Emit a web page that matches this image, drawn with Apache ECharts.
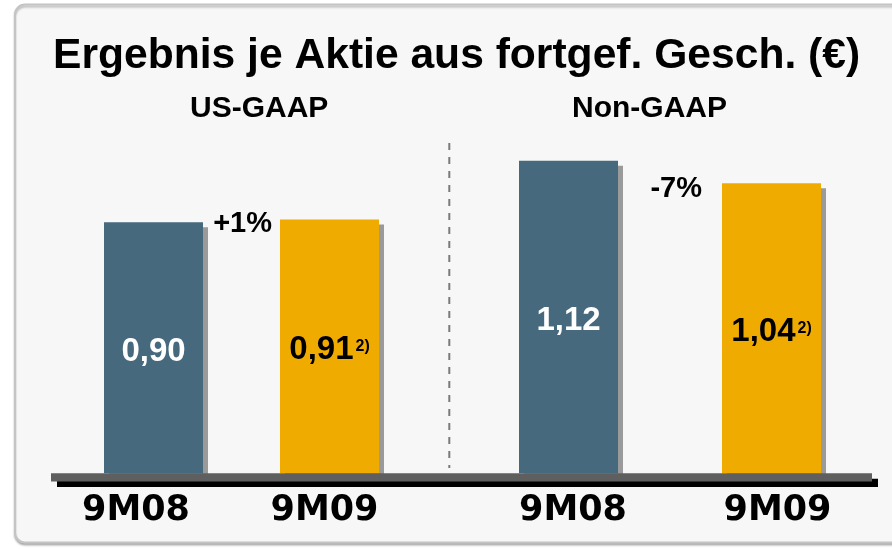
<!DOCTYPE html>
<html>
<head>
<meta charset="utf-8">
<script src="https://cdn.jsdelivr.net/npm/echarts@6/dist/echarts.min.js"></script>
<style>
html,body{margin:0;padding:0;background:#fff;}
#main{width:892px;height:549px;}
</style>
</head>
<body>
<div id="main"></div>
<script>
var title = 'Ergebnis je Aktie aus fortgef. Gesch. (€)';
var groups = ['US-GAAP', 'Non-GAAP'];
var periods = ['9M08', '9M09'];
var usGaap = [0.90, 0.91];
var nonGaap = [1.12, 1.04];
var changes = ['+1%', '-7%'];
var footnote = '2)';

var blue = '#46697d';
var orange = '#f0ab00';
var arial = '"Liberation Sans", Arial, sans-serif';
var heavy = '"DejaVu Sans", sans-serif';

var chart = echarts.init(document.getElementById('main'));

function comma(v){
  return v.toFixed(2).replace('.', ',');
}

function barSeries(idx, values){
  return {
    type: 'bar',
    xAxisIndex: idx,
    yAxisIndex: idx,
    barWidth: 99,
    silent: true,
    data: values.map(function(v, i){
      return {value: v, itemStyle: {color: i == 0 ? blue : orange}};
    }),
    itemStyle: {
      shadowColor: '#9a9a9a',
      shadowOffsetX: 5,
      shadowOffsetY: 5,
      shadowBlur: 0
    },
    label: {
      show: true,
      position: 'inside',
      offset: [0, 4],
      formatter: function(p){
        if (p.dataIndex == 1) return '{dark|' + comma(p.value) + '}{sup|' + footnote + '}';
        return '{light|' + comma(p.value) + '}';
      },
      rich: {
        light: {color: '#fff', fontSize: 33, fontWeight: 'bold', fontFamily: arial},
        dark: {color: '#000', fontSize: 33, fontWeight: 'bold', fontFamily: arial},
        sup: {color: '#000', fontSize: 16, fontWeight: 'bold', fontFamily: arial, verticalAlign: 'top', padding: [5, 0, 0, 2]}
      }
    }
  };
}

function changeSeries(idx, values, dist, dy){
  return {
    type: 'scatter',
    xAxisIndex: idx,
    yAxisIndex: idx,
    symbolSize: 0,
    silent: true,
    itemStyle: {opacity: 1},
    data: [[periods[1], values[1]]],
    label: {
      show: true,
      position: 'left',
      distance: dist,
      offset: [0, dy],
      formatter: changes[idx],
      color: '#000',
      opacity: 1,
      fontSize: 29,
      fontWeight: 'bold',
      fontFamily: arial
    }
  };
}

function xAx(idx, nudge){
  return {
    type: 'category',
    gridIndex: idx,
    data: periods.map(function(p, i){
      return {value: p, textStyle: {padding: nudge[i]}};
    }),
    axisLine: {show: false},
    axisTick: {show: false},
    axisLabel: {
      margin: 20,
      color: '#000',
      fontSize: 35,
      fontWeight: 'bold',
      fontFamily: heavy
    }
  };
}

function yAx(idx){
  return {type: 'value', gridIndex: idx, min: 0, max: 1.2, show: false};
}

chart.setOption({
  animation: false,
  backgroundColor: '#fff',
  title: [
    {text: title, left: 53, top: 35, padding: 0,
     textStyle: {fontSize: 42.6, fontWeight: 'bold', color: '#000', fontFamily: arial}},
    {text: groups[0], left: 190, top: 94, padding: 0,
     textStyle: {fontSize: 30, fontWeight: 'bold', color: '#000', fontFamily: arial}},
    {text: groups[1], left: 572, top: 94, padding: 0,
     textStyle: {fontSize: 30, fontWeight: 'bold', color: '#000', fontFamily: arial}}
  ],
  grid: [
    {left: 65.5, width: 352, top: 138.5, height: 334.8},
    {left: 467, width: 406, top: 138.5, height: 334.8}
  ],
  xAxis: [xAx(0, [[0, 35, 0, 0], [0, 10, 0, 0]]), xAx(1, [[0, 0, 0, 9], [0, 0, 0, 12]])],
  yAxis: [yAx(0), yAx(1)],
  graphic: [
    {id: 'panel', type: 'rect', z: -10,
     shape: {x: 15, y: 4.5, width: 900, height: 538, r: 10},
     style: {fill: '#f7f7f7', stroke: '#c4c4c4', lineWidth: 2,
             shadowColor: 'rgba(0,0,0,0.25)', shadowOffsetY: 2, shadowBlur: 2}},
    {id: 'divider', type: 'line', z: 0,
     shape: {x1: 449.3, y1: 143, x2: 449.3, y2: 468},
     style: {stroke: '#7a7a7a', lineWidth: 2, lineDash: [7, 7]}}
  ],
  series: [
    barSeries(0, usGaap),
    barSeries(1, nonGaap),
    changeSeries(0, usGaap, 57.5, 4.5),
    changeSeries(1, nonGaap, 69.5, 6)
  ]
});

// baseline under both groups, placed at the value axis zero
var y0 = chart.convertToPixel({gridIndex: 0}, [0, 0])[1];
chart.setOption({
  graphic: [
    {id: 'base', type: 'rect', z: 10,
     shape: {x: 51, y: y0, width: 821, height: 8.3},
     style: {fill: '#5f5f5f', shadowColor: '#000', shadowOffsetX: 6, shadowOffsetY: 5.5, shadowBlur: 0}}
  ]
});
</script>
</body>
</html>
